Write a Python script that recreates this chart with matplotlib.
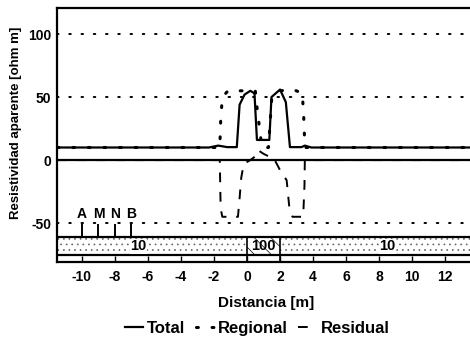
import matplotlib
matplotlib.use("Agg")
import matplotlib.pyplot as plt
from matplotlib.patches import Rectangle

plt.rcParams["font.family"] = ["Liberation Sans", "DejaVu Sans"]
plt.rcParams["font.weight"] = "bold"
plt.rcParams["hatch.linewidth"] = 0.5

# Curvas de resistividad aparente (distancia en m, resistividad en ohm m)
total_x = [-11.5, -2.3, -1.75, -1.2, -0.62, -0.45, -0.15, 0.2, 0.45, 0.6, 1.35, 1.48, 1.65, 2.0, 2.35, 2.6, 2.75, 3.3, 3.5, 3.9, 13.8]
total_y = [10, 10, 11.5, 10.3, 10.3, 44, 52, 55, 53, 16, 16, 50, 52, 56, 46, 10.3, 10.3, 10.3, 11.5, 10, 10]

regional_x = [-11.5, -1.65, -1.6, -1.5, -1.15, 0.5, 0.62, 0.9, 1.3, 1.5, 2.0, 2.8, 3.35, 3.45, 3.5, 13.8]
regional_y = [10, 10, 30, 50, 55, 55, 40, 10, 10, 50, 55, 56, 53, 30, 10, 10]

residual_x = [-11.5, -1.65, -1.6, -1.5, -1.0, -0.55, -0.45, -0.35, -0.2, 0.2, 0.5, 0.65, 1.0, 1.3, 1.6, 2.0, 2.4, 2.55, 2.75, 3.4, 3.48, 3.5, 13.8]
residual_y = [0, 0, -38, -45, -45, -45, -30, -14, -3, 0, 3, 8, 5, 3, 2, -8, -16, -36, -45, -45, -20, 0, 0]

# Modelo: bloque de 100 ohm m entre 0 y 2 m en un medio de 10 ohm m
block_x = [0, 2]
block_rho = 100
host_rho = 10
host_label_x = [-6.6, 8.5]

# Electrodos A, M, N, B
electrode_x = [-10, -9, -8, -7]
electrode_names = ["A", "M", "N", "B"]

xticks = [-10, -8, -6, -4, -2, 0, 2, 4, 6, 8, 10, 12]
yticks = [-50, 0, 50, 100]

fig = plt.figure(figsize=(4.7, 3.4), dpi=100)
ax = fig.add_axes([0.121, 0.229, 0.89, 0.747])
ax.set_xlim(-11.52, 13.82)
ax.set_ylim(-81, 120.6)

# lineas guia punteadas
for yv in [100, 50, -50]:
    ax.plot([-11.52, 13.82], [yv, yv], color="black", lw=1.4,
            linestyle=(0, (0.8, 5.5)), dash_capstyle="round")
ax.axhline(0, color="black", lw=1.6)

ax.plot(total_x, total_y, color="black", lw=1.6, label="Total")
ax.plot(regional_x, regional_y, color="black", lw=2.2,
        linestyle=(0, (0.6, 4.5)), dash_capstyle="round", label="Regional")
ax.plot(residual_x, residual_y, color="black", lw=1.4,
        linestyle=(0, (5, 5)), label="Residual")

# franja del modelo
band_top, band_bot = -61, -75.5
ax.add_patch(Rectangle((-11.52, band_bot), 25.4, band_top - band_bot,
                       facecolor="white", edgecolor="#666666", hatch="...",
                       lw=0, zorder=2))
ax.add_patch(Rectangle((block_x[0], band_bot), block_x[1] - block_x[0],
                       band_top - band_bot, facecolor="white",
                       edgecolor="black", hatch="\\\\", lw=0, zorder=3))
ax.plot([-11.52, 13.82], [band_top, band_top], color="black", lw=1.6, zorder=4)
ax.plot([-11.52, 13.82], [band_bot, band_bot], color="black", lw=1.6, zorder=4)
for bx in block_x:
    ax.plot([bx, bx], [-81, band_top], color="black", lw=1.2, zorder=4)
for lx in host_label_x:
    ax.text(lx, (band_top + band_bot) / 2, str(host_rho), ha="center",
            va="center", fontsize=10.5, fontweight="bold", zorder=5,
            bbox=dict(facecolor="white", edgecolor="none", pad=0.3))
ax.text(sum(block_x) / 2, (band_top + band_bot) / 2, str(block_rho),
        ha="center", va="center", fontsize=10.5, fontweight="bold", zorder=5)

for ex, name in zip(electrode_x, electrode_names):
    ax.plot([ex, ex], [-51.5, band_top], color="black", lw=1.4)
    ax.text(ex, -43, name, ha="center", va="center", fontsize=10,
            fontweight="bold")

ax.set_xticks(xticks)
ax.set_xticklabels([str(v) for v in xticks])
ax.set_yticks(yticks)
ax.set_yticklabels([str(v) for v in yticks])
ax.tick_params(axis="x", direction="in", length=4.5, width=1, labelsize=10,
               pad=6)
ax.tick_params(axis="y", length=0, labelsize=10, pad=4)

for side in ["top", "left", "bottom"]:
    ax.spines[side].set_linewidth(1.6)
ax.spines["right"].set_visible(False)

ax.set_xlabel("Distancia [m]", fontsize=11, fontweight="bold", labelpad=8)
ax.set_ylabel("Resistividad aparente [ohm m]", fontsize=9.5,
              fontweight="bold")
ax.yaxis.set_label_coords(-0.083, 0.55)

fig.legend(loc="center", bbox_to_anchor=(0.547, 0.035), ncol=3, frameon=False,
           fontsize=12, handlelength=1.1, handletextpad=0.25,
           columnspacing=0.6)

fig.savefig("out.png", dpi=100)
